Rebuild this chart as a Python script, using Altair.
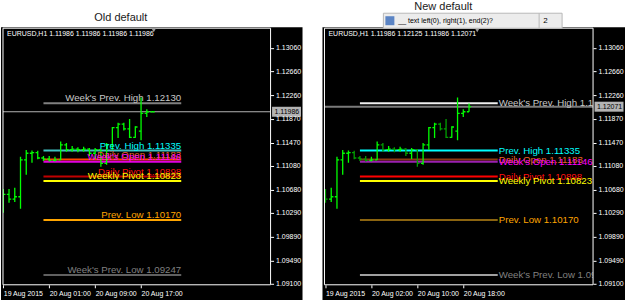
import altair as alt
import pandas as pd

# ---------------- data ----------------
# H1 bars, index 0 = 19 Aug 2015 17:00
bar_open = [1.10420, 1.10600, 1.10520, 1.10560, 1.11180, 1.11290, 1.11300, 1.11210, 1.11190, 1.11170,
            1.11180, 1.11430, 1.11350, 1.11360, 1.11350, 1.11360, 1.11290, 1.11350, 1.11120, 1.11430,
            1.11720, 1.11780, 1.11700, 1.11555, 1.11660, 1.11960]
bar_high = [1.10690, 1.10690, 1.10710, 1.11230, 1.11345, 1.11335, 1.11330, 1.11245, 1.11245, 1.11230,
            1.11485, 1.11460, 1.11410, 1.11390, 1.11400, 1.11380, 1.11380, 1.11355, 1.11460, 1.11730,
            1.11800, 1.11800, 1.11865, 1.11745, 1.12225, 1.12030]
bar_low = [1.10290, 1.10460, 1.10470, 1.10360, 1.10930, 1.11130, 1.11190, 1.11160, 1.11150, 1.11150,
           1.11175, 1.11315, 1.11315, 1.11305, 1.11315, 1.11245, 1.11195, 1.11065, 1.11095, 1.11345,
           1.11545, 1.11670, 1.11545, 1.11550, 1.11510, 1.11900]
bar_close = [1.10600, 1.10520, 1.10560, 1.11180, 1.11290, 1.11300, 1.11210, 1.11190, 1.11170, 1.11180,
             1.11430, 1.11350, 1.11360, 1.11350, 1.11360, 1.11290, 1.11350, 1.11120, 1.11430, 1.11720,
             1.11780, 1.11700, 1.11555, 1.11730, 1.11960, 1.11986]
last_bar_old = [1.11986, 1.11986, 1.11986, 1.11986]   # O H L C
last_bar_new = [1.11986, 1.12125, 1.11986, 1.12071]

level_names = ["Week's Prev. High", "Prev. High", "Daily Open", "Week's Open",
               "Daily Pivot", "Weekly Pivot", "Prev. Low", "Week's Prev. Low"]
level_values = [1.12130, 1.11335, 1.11183, 1.11146, 1.10898, 1.10823, 1.10170, 1.09247]
level_text_colors = ["#c8c8c8", "#00ffff", "#e8602a", "#ff00ff", "#ff1010", "#ffff00", "#ffa500", "#808080"]
level_line_colors_old = ["#808080", "#40c0c0", "#ff4500", "#e000e0", "#c00000", "#ffff00", "#ffa500", "#606060"]
level_line_colors_new = ["#f0f0f0", "#00ffff", "#8b3a12", "#9a20b0", "#ff0000", "#ffff00", "#8b6410", "#a0a0a0"]
level_start = 7
level_end = 31

price_ticks = [1.13060, 1.12660, 1.12260, 1.11870, 1.11470, 1.11080, 1.10680, 1.10290, 1.09890, 1.09490, 1.09100]
y_domain = [1.09083, 1.13388]

old_time_ticks = [0, 8, 16, 24]
old_time_labels = ["19 Aug 2015", "20 Aug 01:00", "20 Aug 09:00", "20 Aug 17:00"]
new_time_ticks = [1, 9, 17, 25]
new_time_labels = ["19 Aug 2015", "20 Aug 02:00", "20 Aug 10:00", "20 Aug 18:00"]

FONT = "Liberation Sans"
one = pd.DataFrame({"k": [0]})


def label_expr(vals, labels):
    expr = "''"
    for v, l in zip(reversed(vals), reversed(labels)):
        expr = f"datum.value == {v} ? '{l}' : ({expr})"
    return expr


def panel(W, H, x_dom, t_vals, t_labels, last_bar, line_cols, price_col, price_w,
          new_style, title_txt, title_xy, tri_x, right_black):
    o = bar_open + [last_bar[0]]
    h = bar_high + [last_bar[1]]
    l = bar_low + [last_bar[2]]
    c = bar_close + [last_bar[3]]
    idx = list(range(len(o)))
    bars = pd.DataFrame({"i": idx, "o": o, "h": h, "l": l, "c": c})
    bars["xl"] = bars["i"] - 0.38
    bars["xr"] = bars["i"] + 0.38
    bars["col"] = ["#00a000" if (new_style and cc < oo) else "#00ff00" for oo, cc in zip(o, c)]

    price = last_bar[3]
    pdf = pd.DataFrame({"p": [price], "t": [f"{price:.5f}"]})

    lv = pd.DataFrame({
        "name": level_names, "v": level_values, "tc": level_text_colors, "lc": line_cols,
        "s": [level_start] * len(level_names), "e": [level_end] * len(level_names),
    })
    lv["label"] = [f"{n}  {v:.5f}" for n, v in zip(level_names, level_values)]

    xscale = alt.Scale(domain=x_dom, nice=False, zero=False)
    yscale = alt.Scale(domain=y_domain, nice=False, zero=False)
    yaxis = alt.Axis(orient="right", values=price_ticks, format=".5f", labelColor="white",
                     tickColor="white", tickSize=3, domain=False, grid=False, labelFont=FONT,
                     labelFontSize=7, labelPadding=2, zindex=1, title=None, labelAlign="left",
                     labelBaseline="middle", labelOverlap=False, labelFlush=False,
                     minExtent=32, maxExtent=32)
    xaxis = alt.Axis(orient="bottom", values=t_vals, labelExpr=label_expr(t_vals, t_labels),
                     labelColor="white", tickColor="white", tickSize=3, domain=False, grid=False,
                     labelFont=FONT, labelFontSize=7, labelPadding=2, zindex=1, title=None,
                     labelAlign="left", labelBaseline="top", labelOverlap=False, labelFlush=False,
                     minExtent=15, maxExtent=15)

    def X(f):
        return alt.X(f, type="quantitative", scale=xscale, axis=xaxis)

    def Y(f):
        return alt.Y(f, type="quantitative", scale=yscale, axis=yaxis)

    layers = []
    # top bound helper (white on white)
    layers.append(alt.Chart(one).mark_rect(color="white").encode(
        x=alt.value(0), x2=alt.value(W), y=alt.value(-28), y2=alt.value(-27)))
    # black terminal background
    layers.append(alt.Chart(one).mark_rect(color="black").encode(
        x=alt.value(-2), x2=alt.value(W + right_black), y=alt.value(-1), y2=alt.value(H + 20)))
    # current price line
    layers.append(alt.Chart(pdf).mark_rule(color=price_col, strokeWidth=price_w).encode(y=Y("p")))
    # level lines
    layers.append(alt.Chart(lv).mark_rule(strokeWidth=2).encode(
        x=X("s"), x2=alt.X2("e"), y=Y("v"), color=alt.Color("lc:N", scale=None)))
    # bars
    layers.append(alt.Chart(bars).mark_rule(strokeWidth=1.3, clip=True).encode(
        x=X("i"), y=Y("l"), y2=alt.Y2("h"), color=alt.Color("col:N", scale=None)))
    layers.append(alt.Chart(bars).mark_rule(strokeWidth=1.3, clip=True).encode(
        x=X("xl"), x2=alt.X2("i"), y=Y("o"), color=alt.Color("col:N", scale=None)))
    layers.append(alt.Chart(bars).mark_rule(strokeWidth=1.3, clip=True).encode(
        x=X("i"), x2=alt.X2("xr"), y=Y("c"), color=alt.Color("col:N", scale=None)))
    # level labels
    if new_style:
        txt = alt.Chart(lv).mark_text(align="left", baseline="middle", font=FONT, fontSize=9.7,
                                      dx=1, clip=True)
    else:
        txt = alt.Chart(lv).mark_text(align="right", baseline="alphabetic", font=FONT, fontSize=9.7,
                                      dy=-2)
    layers.append(txt.encode(x=X("e"), y=Y("v"), text="label:N", color=alt.Color("tc:N", scale=None)))
    # frame
    layers.append(alt.Chart(one).mark_rect(fillOpacity=0, stroke="white", strokeWidth=1).encode(
        x=alt.value(0), x2=alt.value(W), y=alt.value(0), y2=alt.value(H)))
    # price label on the axis
    layers.append(alt.Chart(pdf).mark_tick(orient="horizontal", size=29, thickness=10, color="white").encode(
        x=alt.value(W + 16), y=Y("p")))
    layers.append(alt.Chart(pdf).mark_text(align="left", baseline="middle", font=FONT, fontSize=7,
                                           color="black").encode(
        x=alt.value(W + 4), y=Y("p"), text="t:N"))
    # header
    hdr = "EURUSD,H1  " + " ".join(f"{v:.5f}" for v in last_bar)
    layers.append(alt.Chart(one).mark_text(align="left", baseline="middle", font=FONT, fontSize=7,
                                           color="white").encode(
        x=alt.value(4), y=alt.value(6), text=alt.value(hdr)))
    # shift marker
    layers.append(alt.Chart(one).mark_point(shape="triangle-down", filled=True, size=22,
                                            color="#9a9a9a", opacity=1).encode(
        x=alt.value(tri_x), y=alt.value(2)))
    # title
    layers.append(alt.Chart(one).mark_text(align="center", baseline="middle", font=FONT, fontSize=11,
                                           color="#1a1a1a").encode(
        x=alt.value(title_xy[0]), y=alt.value(title_xy[1]), text=alt.value(title_txt)))
    if new_style:
        layers.append(alt.Chart(one).mark_rect(color="#ececec", stroke="#b8b8b8", strokeWidth=1).encode(
            x=alt.value(59), x2=alt.value(238), y=alt.value(-15), y2=alt.value(0)))
        layers.append(alt.Chart(one).mark_rect(color="#5b84c4").encode(
            x=alt.value(61), x2=alt.value(70), y=alt.value(-12), y2=alt.value(-3)))
        layers.append(alt.Chart(one).mark_rule(color="#b8b8b8").encode(
            x=alt.value(215), y=alt.value(-15), y2=alt.value(0)))
        layers.append(alt.Chart(one).mark_text(align="left", baseline="middle", font=FONT, fontSize=7,
                                               color="black").encode(
            x=alt.value(74), y=alt.value(-7.5), text=alt.value("__ text left(0), right(1), end(2)?")))
        layers.append(alt.Chart(one).mark_text(align="left", baseline="middle", font=FONT, fontSize=8,
                                               color="black").encode(
            x=alt.value(219), y=alt.value(-7.5), text=alt.value("2")))

    return alt.layer(*layers).properties(width=W, height=H)


left = panel(268, 257, [-0.05, 46.56], old_time_ticks, old_time_labels, last_bar_old,
             level_line_colors_old, "#b4b4b4", 1, False, "Old default", (118, -10), 151, 32)
right = panel(269, 257, [0.826, 47.6], new_time_ticks, new_time_labels, last_bar_new,
              level_line_colors_new, "#7a7a7a", 2, True, "New default", (119, -21.5), 153, 32)

chart = alt.hconcat(left, right, spacing=54, bounds="flush").properties(
    padding={"left": 1, "top": 0, "right": 0, "bottom": 0},
    background="white",
).configure_view(strokeWidth=0)

chart.save("out.html", embed_options={"renderer": "svg", "actions": False})
